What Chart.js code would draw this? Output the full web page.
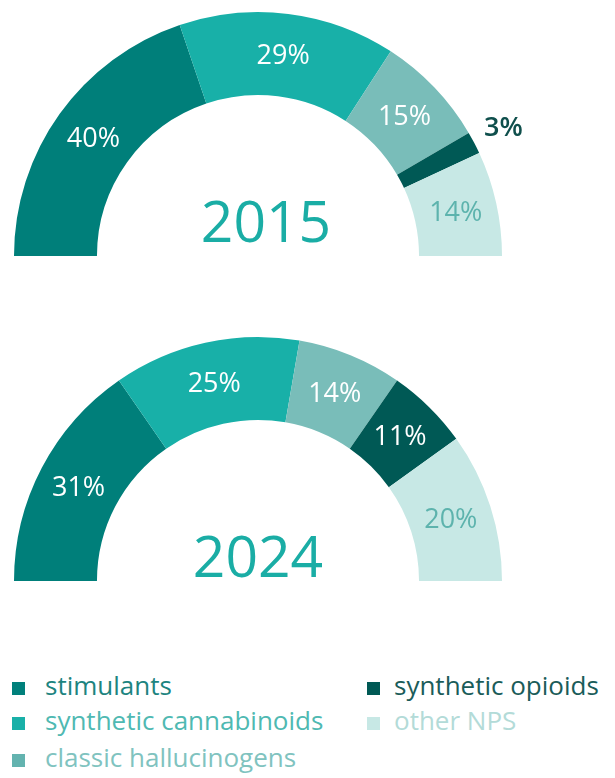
<!DOCTYPE html>
<html>
<head>
<meta charset="utf-8">
<script src="https://cdn.jsdelivr.net/npm/chart.js@4.4.1/dist/chart.umd.min.js"></script>
<style>
  html, body { margin: 0; padding: 0; background: #ffffff; }
  body { width: 615px; height: 778px; position: relative; overflow: hidden; font-family: 'Open Sans', sans-serif; }
  canvas { position: absolute; left: 0; }
  #c1 { top: 0; }
  #c2 { top: 325px; }
  .leg { position: absolute; font-size: 26px; line-height: 26px; white-space: nowrap; }
  .sw { display: inline-block; width: 13px; height: 13px; vertical-align: baseline; }
</style>
</head>
<body>
<canvas id="c1" width="560" height="270"></canvas>
<canvas id="c2" width="560" height="270"></canvas>
<div id="legend"></div>
<script>
// ---- data ----
const categories = ['stimulants', 'synthetic cannabinoids', 'classic hallucinogens', 'synthetic opioids', 'other NPS'];
const years = ['2015', '2024'];
const values2015 = [40, 29, 15, 3, 14];
const values2024 = [31, 25, 14, 11, 20];

// ---- styles ----
const sliceColors = ['#007f7a', '#18b0a8', '#79bdb9', '#005955', '#c7e8e5'];
const legendSwatch = ['#00807b', '#19b0a8', '#63b3af', '#005955', '#c7e8e5'];
const legendText = ['#1d8480', '#4fb9b2', '#80c3bf', '#1a5c59', '#b3dbd8'];
const labelColors = ['#ffffff', '#ffffff', '#ffffff', '#ffffff', '#5db3ad'];
const outsideLabelColor = '#0f4f4c';
const yearColor = '#1aada5';

function makeChart(id, yearLabel, values, outsideIdx, yearDx, yearDy) {
  const labelPlugin = {
    id: 'labels' + id,
    afterDatasetsDraw(chart) {
      const ctx = chart.ctx;
      const meta = chart.getDatasetMeta(0);
      ctx.save();
      ctx.textAlign = 'center';
      ctx.textBaseline = 'middle';
      meta.data.forEach((arc, i) => {
        const txt = values[i] + '%';
        if (i === outsideIdx) {
          const p = arc.getProps(['x', 'y', 'startAngle', 'endAngle', 'outerRadius'], true);
          const a = (p.startAngle + p.endAngle) / 2;
          const r = p.outerRadius + 33;
          ctx.font = '600 27px "Open Sans"';
          ctx.fillStyle = outsideLabelColor;
          ctx.fillText(txt, p.x + Math.cos(a) * r, p.y + Math.sin(a) * r + 1);
        } else {
          const pos = arc.tooltipPosition(true);
          ctx.font = '27px "Open Sans"';
          ctx.fillStyle = labelColors[i];
          ctx.fillText(txt, pos.x, pos.y + 1);
        }
      });
      const a0 = meta.data[0];
      ctx.font = '57px "Open Sans"';
      ctx.textBaseline = 'alphabetic';
      ctx.fillStyle = yearColor;
      ctx.fillText(yearLabel, a0.x + yearDx, a0.y + yearDy);
      ctx.restore();
    }
  };
  return new Chart(document.getElementById(id), {
    type: 'doughnut',
    data: {
      labels: categories,
      datasets: [{
        data: values,
        backgroundColor: sliceColors,
        borderWidth: 0,
        hoverOffset: 0
      }]
    },
    options: {
      responsive: false,
      animation: false,
      rotation: -90,
      circumference: 180,
      cutout: '66%',
      layout: { padding: { left: 14, top: 12, right: 58, bottom: 14 } },
      plugins: { legend: { display: false }, tooltip: { enabled: false } },
      events: []
    },
    plugins: [labelPlugin]
  });
}

makeChart('c1', years[0], values2015, 3, 8, -14);
makeChart('c2', years[1], values2024, -1, 0, -4);

// ---- legend (HTML) ----
const legendPos = [
  { left: 12, top: 672, gap: 20 },
  { left: 12, top: 707, gap: 20 },
  { left: 12, top: 744, gap: 20 },
  { left: 367, top: 672, gap: 14 },
  { left: 367, top: 707, gap: 14 }
];
const legend = document.getElementById('legend');
categories.forEach((c, i) => {
  const d = document.createElement('div');
  d.className = 'leg';
  d.style.left = legendPos[i].left + 'px';
  d.style.top = legendPos[i].top + 'px';
  d.style.color = legendText[i];
  const s = document.createElement('span');
  s.className = 'sw';
  s.style.background = legendSwatch[i];
  s.style.marginRight = legendPos[i].gap + 'px';
  d.appendChild(s);
  d.appendChild(document.createTextNode(c));
  legend.appendChild(d);
});
</script>
</body>
</html>
